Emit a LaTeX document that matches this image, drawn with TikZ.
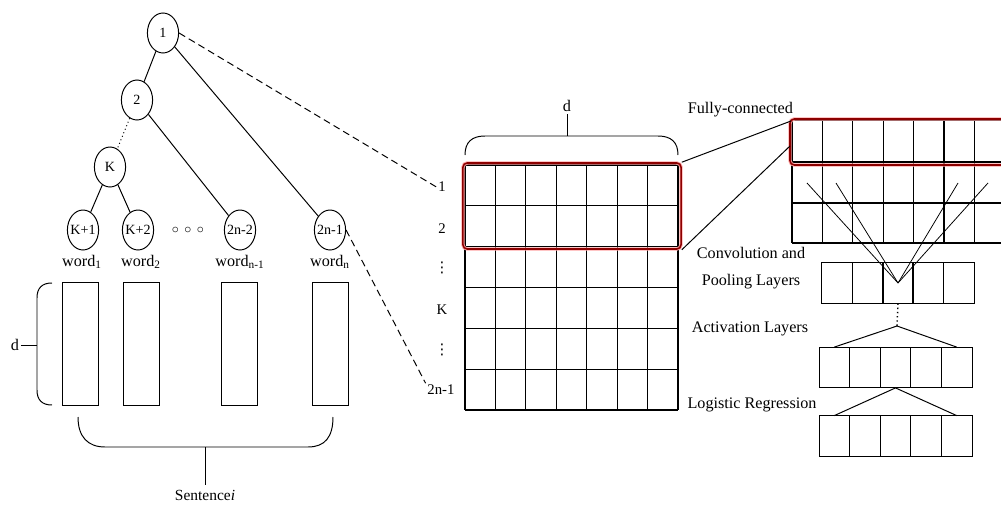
\documentclass[tikz,border=0pt]{standalone}
\usepackage{fontspec}
\setmainfont{Liberation Serif}
\newfontfamily\symfont{DejaVu Sans}
\usetikzlibrary{positioning, shapes.geometric}

\begin{document}
\begin{tikzpicture}[x=0.025cm, y=-0.025cm, line width=0.7pt,
  tnode/.style={draw, ellipse, minimum width=0.78cm, minimum height=1cm, inner xsep=-2pt, inner ysep=0pt, font=\fontsize{10}{11}\selectfont},
  wbox/.style={draw, minimum width=0.9cm, minimum height=3.05cm},
  cell/.style={draw, minimum width=0.765cm, minimum height=1.02cm, inner sep=0pt, outer sep=0pt},
  lbl/.style={font=\fontsize{10.5}{12}\selectfont, inner sep=1pt},
  rlbl/.style={font=\fontsize{11.5}{13}\selectfont, inner sep=1pt},
  gridline/.style={line width=0.9pt},
  thinline/.style={line width=0.55pt},
  sel/.style={draw=red!55!black, line width=1.1pt, rounded corners=3pt, preaction={draw=red!35, line width=2.4pt}}]
\useasboundingbox (0,0) rectangle (1001,506);

\node[tnode] (n1) at (163,33) {1};
\node[tnode] (n2) at (137,100) {2};
\node[tnode] (nk) at (110,167) {K};
\node[tnode] (nk1) at (83,230) {K+1};
\node[tnode] (nk2) at (138,230) {K+2};
\node (hdots) at (188,230) {$\circ\,\circ\,\circ$};
\node[tnode] (nm2) at (240,230) {2n-2};
\node[tnode] (nm1) at (330,230) {2n-1};

\draw (n1) -- (n2);
\draw (n1) -- (nm1);
\draw[dotted] (n2) -- (nk);
\draw (n2) -- (nm2);
\draw (nk) -- (nk1);
\draw (nk) -- (nk2);

\node[rlbl] (w1) at (82,262) {word\textsubscript{1}};
\node[rlbl] (w2) at (141,262) {word\textsubscript{2}};
\node[rlbl] (w3) at (240,262) {word\textsubscript{n-1}};
\node[rlbl] (w4) at (330,262) {word\textsubscript{n}};
\node[wbox] (v1) at (80,344) {};
\node[wbox] (v2) at (141.5,344) {};
\node[wbox] (v3) at (239,344) {};
\node[wbox] (v4) at (330,344) {};

\draw (52,283) .. controls (42,283) and (37,288) .. (37,298) -- (37,390) .. controls (37,400) and (42,405) .. (52,405);
\node[rlbl] (dl) at (15,345) {d};
\coordinate (ltip) at (37,345);
\draw (dl) -- (ltip);

\draw (78,417) .. controls (78,437) and (88,447) .. (105,447) -- (308,447) .. controls (325,447) and (333,437) .. (333,417);
\node[font=\fontsize{11}{12}\selectfont] (sent) at (205,495) {Sentence\textit{i}};
\coordinate (btip) at (205,447);
\draw (btip) -- (sent);

\foreach \i in {0,...,7} \draw[gridline] (465+\i*30.43,165) -- (465+\i*30.43,410);
\foreach \j in {0,...,6} \draw[gridline] (465,165+\j*40.83) -- (678,165+\j*40.83);

\draw (465,155) .. controls (465,142) and (472,136) .. (485,136) -- (658,136) .. controls (671,136) and (678,142) .. (678,155);
\node[rlbl] (gd) at (567,106) {d};
\coordinate (gtip) at (567,136);
\draw (gtip) -- (gd);

\node[lbl] (r1) at (442,187) {1};
\node[lbl] (r2) at (442,229) {2};
\node[lbl] (r3) at (442,268) {\symfont ⋮};
\node[lbl] (rk) at (442,310) {K};
\node[lbl] (r5) at (442,350) {\symfont ⋮};
\node[lbl] (rn) at (441,390) {2n-1};

\draw[dashed, dash pattern=on 5pt off 3pt] (n1.east) -- (r1.west);
\draw[dashed, dash pattern=on 5pt off 3pt] (nm1.east) -- (rn.north west);

\node[sel, minimum width=5.45cm, minimum height=2.15cm] (selA) at (572,206) {};

\foreach \i in {0,...,6} \draw[gridline] (792+\i*30.4,120) -- (792+\i*30.4,243);
\foreach \j in {120,162,203,243} \draw[gridline] (792,\j) -- (1001,\j);
\draw[sel] (1001,119) -- (790,119) -- (790,165) -- (1001,165);

\coordinate (fcA) at (791,121);
\coordinate (fcB) at (790,146);
\draw (selA.north east) -- (fcA);
\draw (selA.south east) -- (fcB);

\node[rlbl, anchor=west] (fc) at (686,110) {Fully-connected};
\node[rlbl, align=center, font=\fontsize{11.5}{19}\selectfont] (cp) at (751,268) {Convolution and\\Pooling Layers};
\node[rlbl] (al) at (750,329) {Activation Layers};
\node[rlbl] (lg) at (752,405) {Logistic Regression};

\foreach \i in {1,...,5} {
  \node[cell] (cv\i) at (837.2+\i*30.4-30.4,283) {};
  \node[cell] (ac\i) at (834.3+\i*30.6-30.6,367.5) {};
  \node[cell] (lr\i) at (834.3+\i*30.6-30.6,436) {};
}
\draw[line width=1.2pt] (cv3.north west) rectangle (cv3.south east);

\coordinate (tapA) at (807,183);
\coordinate (tapB) at (836,183);
\coordinate (tapC) at (958,183);
\coordinate (tapD) at (988,183);
\foreach \t in {tapA,tapB,tapC,tapD} \draw[thinline] (\t) -- (cv3.center);

\coordinate (acap) at (897,326);
\draw[dotted, line width=1pt] (cv3.south) -- (acap);
\draw (ac1.north) -- (acap) -- (ac5.north);
\draw (lr1.north) -- (ac3.south) -- (lr5.north);
\end{tikzpicture}
\end{document}
